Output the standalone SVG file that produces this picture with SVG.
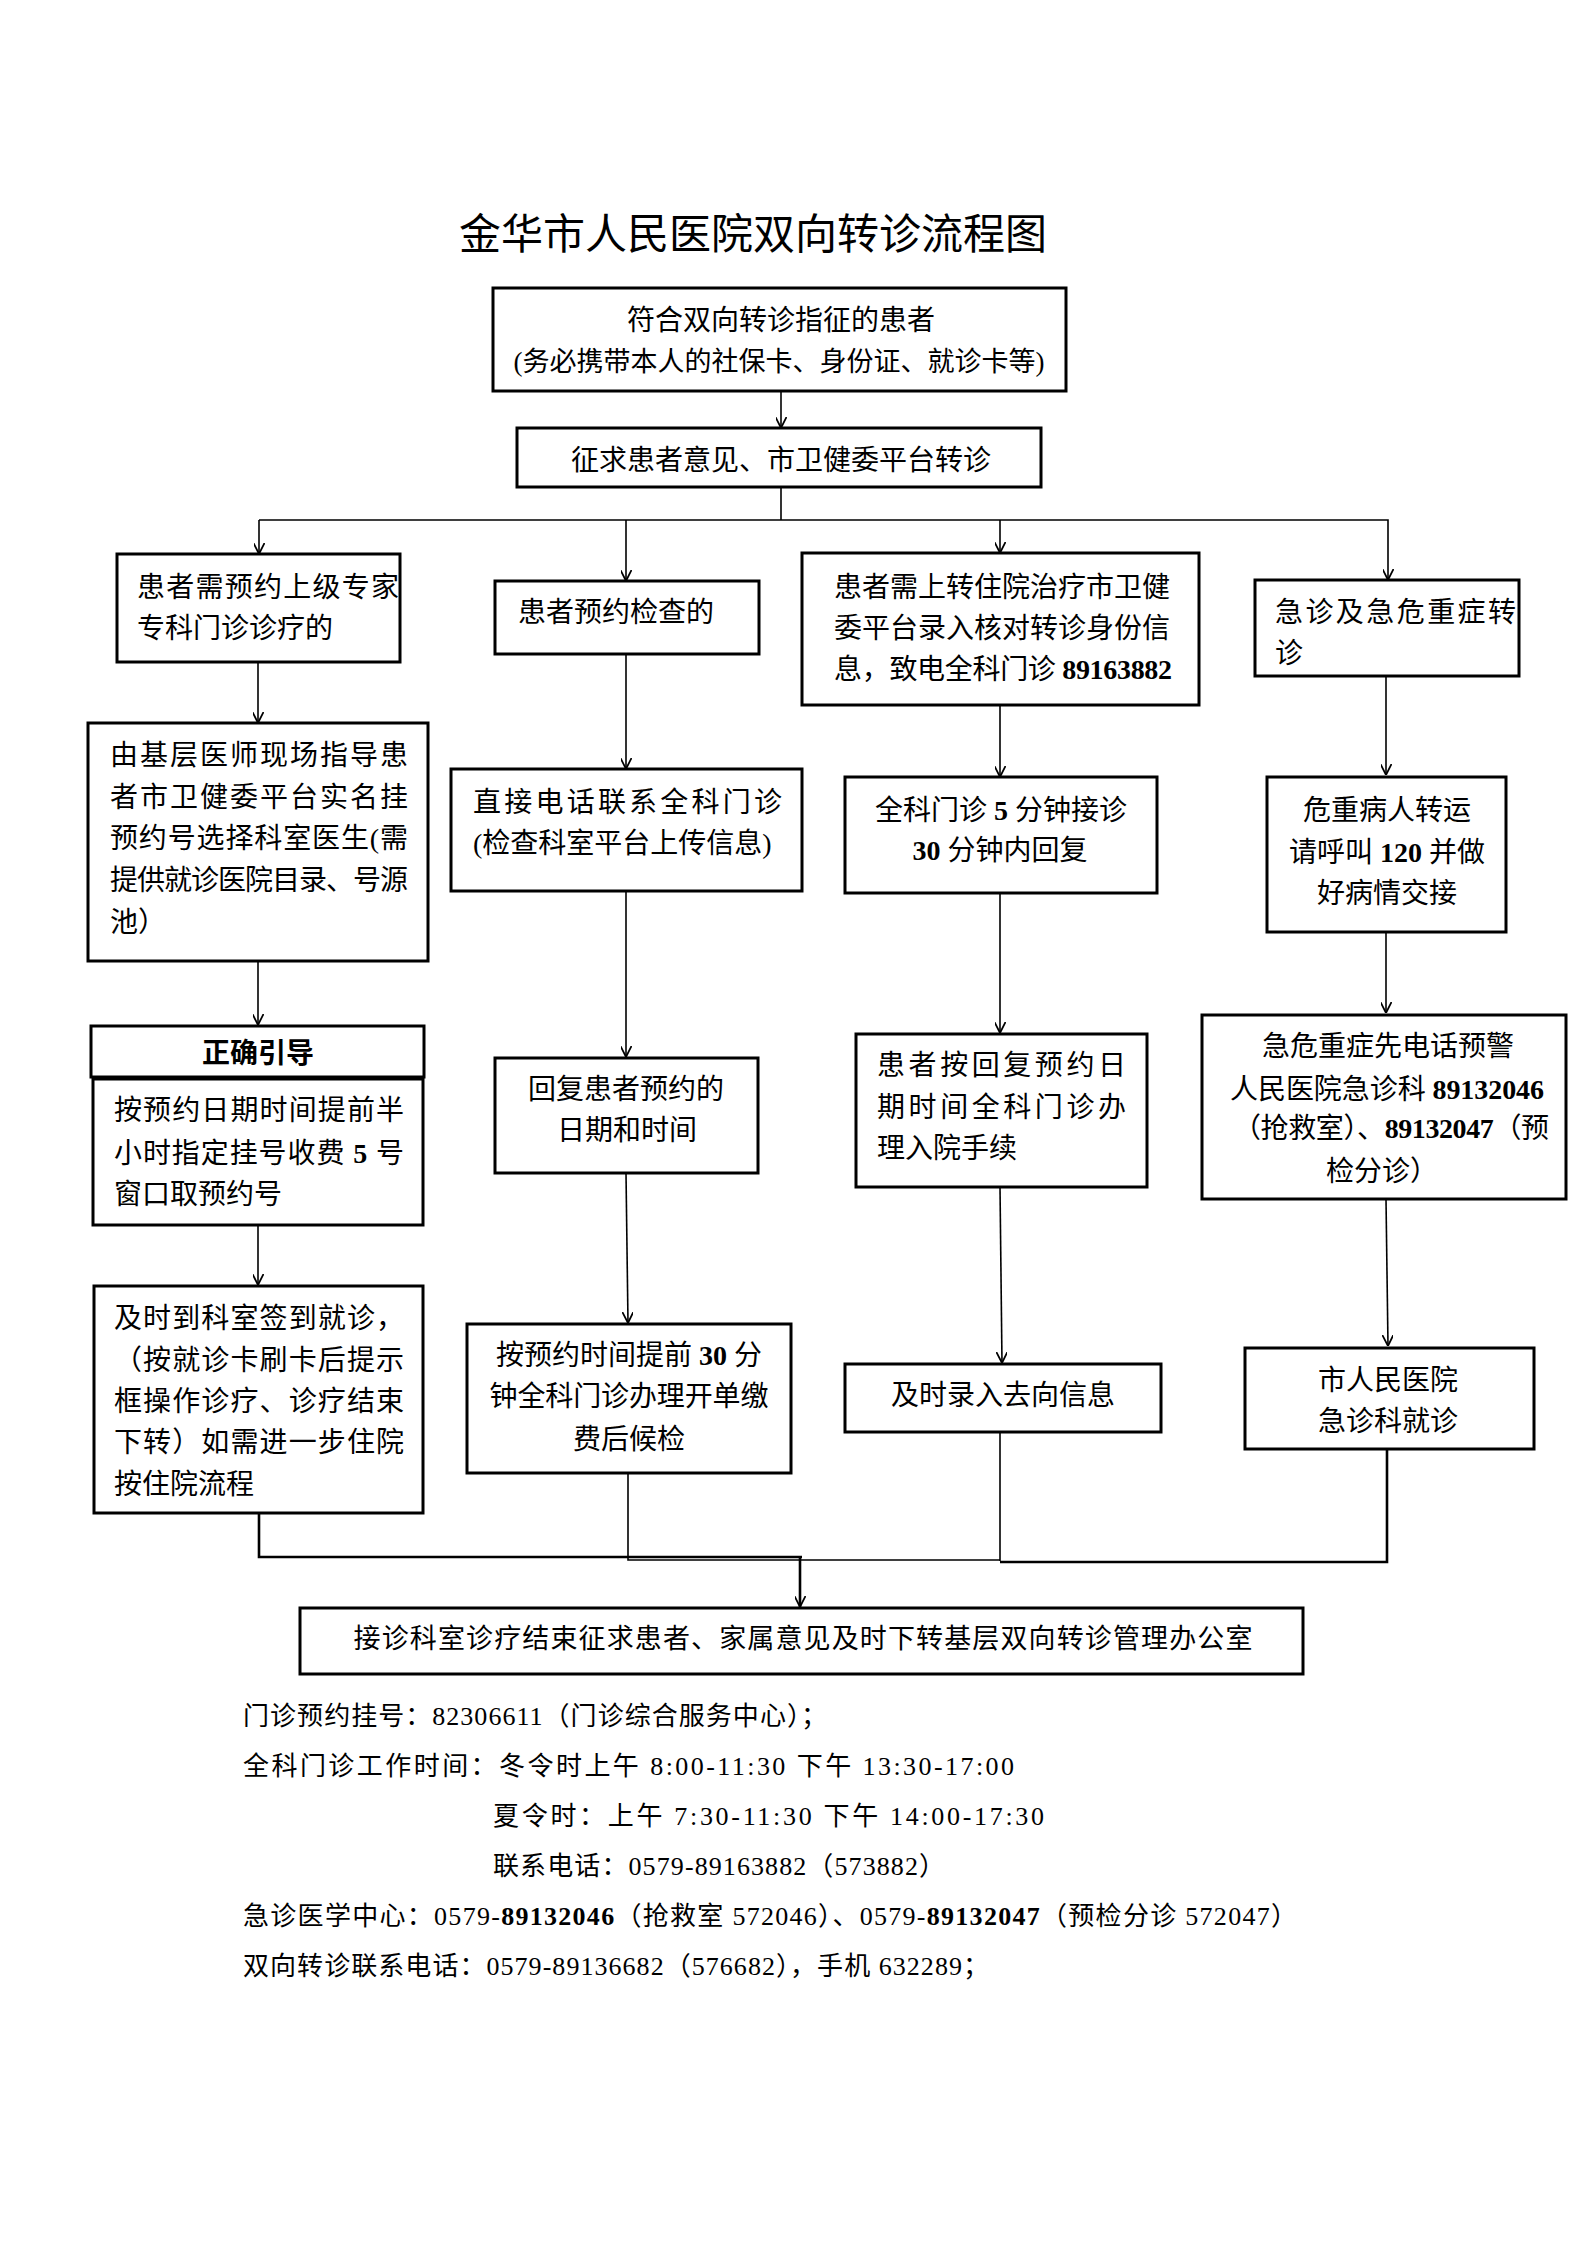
<svg xmlns="http://www.w3.org/2000/svg" width="1587" height="2245" viewBox="0 0 1587 2245">
<style>
text{font-family:"Liberation Serif","Noto Sans CJK SC",serif;fill:#000;}
.t{font-size:28px;}
.s{font-size:27px;}
.f{font-size:26px;}
.title{font-size:42px;}
.m{text-anchor:middle;}
.b{font-weight:bold;}
.hd{font-family:"Noto Sans CJK SC",sans-serif;font-weight:bold;font-size:28px;}
.box{fill:#fff;stroke:#000;stroke-width:3;}
.c{fill:none;stroke:#000;stroke-width:1.6;}
.c2{fill:none;stroke:#000;stroke-width:2.6;}
</style>
<defs>
<marker id="arr" viewBox="0 0 10 10" refX="10" refY="5" markerWidth="11" markerHeight="11" markerUnits="userSpaceOnUse" orient="auto">
<path d="M0,0 L10,5 L0,10" fill="none" stroke="#000" stroke-width="1.6"/>
</marker>
</defs>
<rect width="1587" height="2245" fill="#fff"/>
<text class="title m" x="753" y="249">金华市人民医院双向转诊流程图</text>

<g id="connectors">
<path class="c" d="M781,391 V428" marker-end="url(#arr)"/>
<path class="c" d="M781,487 V520"/>
<path class="c" d="M259,520 H1388 V580" marker-end="url(#arr)"/>
<path class="c" d="M259,520 V554" marker-end="url(#arr)"/>
<path class="c" d="M626,520 V581" marker-end="url(#arr)"/>
<path class="c" d="M1000,520 V553" marker-end="url(#arr)"/>
<path class="c" d="M258,662 V723" marker-end="url(#arr)"/>
<path class="c" d="M258,961 V1025" marker-end="url(#arr)"/>
<path class="c" d="M258,1225 V1285" marker-end="url(#arr)"/>
<path class="c" d="M626,654 V769" marker-end="url(#arr)"/>
<path class="c" d="M626,891 V1057" marker-end="url(#arr)"/>
<path class="c" d="M626,1173 L628,1323" marker-end="url(#arr)"/>
<path class="c" d="M1000,705 V777" marker-end="url(#arr)"/>
<path class="c" d="M1000,893 V1033" marker-end="url(#arr)"/>
<path class="c" d="M1000,1187 L1002,1363" marker-end="url(#arr)"/>
<path class="c" d="M1386,676 V775" marker-end="url(#arr)"/>
<path class="c" d="M1386,932 V1013" marker-end="url(#arr)"/>
<path class="c" d="M1386,1199 L1388,1346" marker-end="url(#arr)"/>
<path class="c2" d="M259,1513 V1557 H802"/>
<path class="c" d="M628,1473 V1560 H1000"/>
<path class="c" d="M1000,1432 V1561"/>
<path class="c2" d="M1387,1449 V1562 H1000"/>
<path class="c2" d="M800,1557 V1607" marker-end="url(#arr)"/>
</g>

<g id="n1">
<rect class="box" x="493" y="288" width="573" height="103"/>
<text class="t m" x="781" y="330">符合双向转诊指征的患者</text>
<text class="s m" x="779" y="371">(务必携带本人的社保卡、身份证、就诊卡等)</text>
</g>
<g id="n2">
<rect class="box" x="517" y="428" width="524" height="59"/>
<text class="t m" x="781" y="470">征求患者意见、市卫健委平台转诊</text>
</g>

<g id="a1">
<rect class="box" x="117" y="554" width="283" height="108"/>
<text class="t" x="137" y="597" textLength="262" lengthAdjust="spacing">患者需预约上级专家</text>
<text class="t" x="137" y="638">专科门诊诊疗的</text>
</g>
<g id="a2">
<rect class="box" x="88" y="723" width="340" height="238"/>
<text class="t" x="110" y="765" textLength="298" lengthAdjust="spacing">由基层医师现场指导患</text>
<text class="t" x="110" y="807" textLength="298" lengthAdjust="spacing">者市卫健委平台实名挂</text>
<text class="t" x="110" y="848" textLength="298" lengthAdjust="spacing">预约号选择科室医生(需</text>
<text class="t" x="110" y="890" textLength="298" lengthAdjust="spacing">提供就诊医院目录、号源</text>
<text class="t" x="110" y="932">池）</text>
</g>
<g id="a3h">
<rect class="box" x="91" y="1026" width="333" height="51"/>
<text class="hd m" x="258" y="1063">正确引导</text>
</g>
<g id="a3">
<rect class="box" x="93" y="1079" width="330" height="146"/>
<text class="t" x="114" y="1120" textLength="290" lengthAdjust="spacing">按预约日期时间提前半</text>
<text class="t" x="114" y="1163" textLength="290" lengthAdjust="spacing">小时指定挂号收费 <tspan class="b">5</tspan> 号</text>
<text class="t" x="114" y="1204">窗口取预约号</text>
</g>
<g id="a4">
<rect class="box" x="94" y="1286" width="329" height="227"/>
<text class="t" x="114" y="1328" textLength="290" lengthAdjust="spacing">及时到科室签到就诊，</text>
<text class="t" x="114" y="1370" textLength="290" lengthAdjust="spacing">（按就诊卡刷卡后提示</text>
<text class="t" x="114" y="1411" textLength="290" lengthAdjust="spacing">框操作诊疗、诊疗结束</text>
<text class="t" x="114" y="1452" textLength="290" lengthAdjust="spacing">下转）如需进一步住院</text>
<text class="t" x="114" y="1494">按住院流程</text>
</g>

<g id="b1">
<rect class="box" x="495" y="581" width="264" height="73"/>
<text class="t" x="518" y="622">患者预约检查的</text>
</g>
<g id="b2">
<rect class="box" x="451" y="769" width="351" height="122"/>
<text class="t" x="473" y="812" textLength="309" lengthAdjust="spacing">直接电话联系全科门诊</text>
<text class="t" x="473" y="853">(检查科室平台上传信息)</text>
</g>
<g id="b3">
<rect class="box" x="495" y="1058" width="263" height="115"/>
<text class="t m" x="626" y="1099">回复患者预约的</text>
<text class="t m" x="627" y="1140">日期和时间</text>
</g>
<g id="b4">
<rect class="box" x="467" y="1324" width="324" height="149"/>
<text class="t m" x="629" y="1365">按预约时间提前 <tspan class="b">30</tspan> 分</text>
<text class="t m" x="629" y="1406" textLength="279" lengthAdjust="spacing">钟全科门诊办理开单缴</text>
<text class="t m" x="629" y="1449">费后候检</text>
</g>

<g id="c1">
<rect class="box" x="802" y="553" width="397" height="152"/>
<text class="t" x="834" y="597" textLength="336" lengthAdjust="spacing">患者需上转住院治疗市卫健</text>
<text class="t" x="834" y="638" textLength="336" lengthAdjust="spacing">委平台录入核对转诊身份信</text>
<text class="t" x="834" y="679" textLength="338" lengthAdjust="spacing">息，致电全科门诊 <tspan class="b">89163882</tspan></text>
</g>
<g id="c2">
<rect class="box" x="845" y="777" width="312" height="116"/>
<text class="t m" x="1001" y="820">全科门诊 <tspan class="b">5</tspan> 分钟接诊</text>
<text class="t m" x="1000" y="860"><tspan class="b">30</tspan> 分钟内回复</text>
</g>
<g id="c3">
<rect class="box" x="856" y="1034" width="291" height="153"/>
<text class="t" x="877" y="1075" textLength="249" lengthAdjust="spacing">患者按回复预约日</text>
<text class="t" x="877" y="1117" textLength="249" lengthAdjust="spacing">期时间全科门诊办</text>
<text class="t" x="877" y="1158">理入院手续</text>
</g>
<g id="c4">
<rect class="box" x="845" y="1364" width="316" height="68"/>
<text class="t m" x="1003" y="1405">及时录入去向信息</text>
</g>

<g id="d1">
<rect class="box" x="1255" y="580" width="264" height="96"/>
<text class="t" x="1275" y="622" textLength="241" lengthAdjust="spacing">急诊及急危重症转</text>
<text class="t" x="1275" y="663">诊</text>
</g>
<g id="d2">
<rect class="box" x="1267" y="777" width="239" height="155"/>
<text class="t m" x="1387" y="820">危重病人转运</text>
<text class="t m" x="1387" y="862">请呼叫 <tspan class="b">120</tspan> 并做</text>
<text class="t m" x="1387" y="903">好病情交接</text>
</g>
<g id="d3">
<rect class="box" x="1202" y="1015" width="364" height="184"/>
<text class="t m" x="1388" y="1056">急危重症先电话预警</text>
<text class="t" x="1230" y="1099" textLength="314" lengthAdjust="spacing">人民医院急诊科 <tspan class="b">89132046</tspan></text>
<text class="t" x="1233" y="1138" textLength="316" lengthAdjust="spacing">（抢救室）、<tspan class="b">89132047</tspan>（预</text>
<text class="t m" x="1382" y="1181">检分诊）</text>
</g>
<g id="d4">
<rect class="box" x="1245" y="1348" width="289" height="101"/>
<text class="t m" x="1388" y="1390">市人民医院</text>
<text class="t m" x="1388" y="1431">急诊科就诊</text>
</g>

<g id="e">
<rect class="box" x="300" y="1608" width="1003" height="66"/>
<text class="s m" x="803" y="1648" textLength="899" lengthAdjust="spacing">接诊科室诊疗结束征求患者、家属意见及时下转基层双向转诊管理办公室</text>
</g>

<g id="footer">
<text class="f" x="243" y="1725" textLength="584" lengthAdjust="spacing">门诊预约挂号：82306611（门诊综合服务中心）；</text>
<text class="f" x="243" y="1775" textLength="771" lengthAdjust="spacing">全科门诊工作时间：冬令时上午 8:00-11:30 下午 13:30-17:00</text>
<text class="f" x="493" y="1825" textLength="551" lengthAdjust="spacing">夏令时：上午 7:30-11:30 下午 14:00-17:30</text>
<text class="f" x="493" y="1875" textLength="452" lengthAdjust="spacing">联系电话：0579-89163882（573882）</text>
<text class="f" x="243" y="1925" textLength="1054" lengthAdjust="spacing">急诊医学中心：0579-<tspan class="b">89132046</tspan>（抢救室 572046）、0579-<tspan class="b">89132047</tspan>（预检分诊 572047）</text>
<text class="f" x="243" y="1975" textLength="746" lengthAdjust="spacing">双向转诊联系电话：0579-89136682（576682），手机 632289；</text>
</g>
</svg>
